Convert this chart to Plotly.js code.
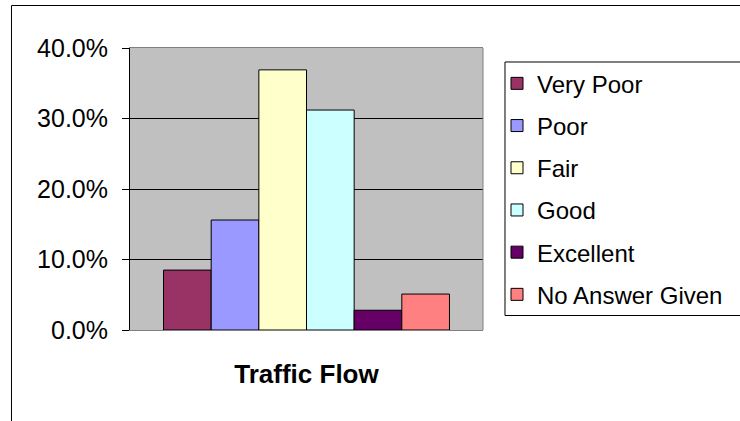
<!DOCTYPE html>
<html>
<head>
<meta charset="utf-8">
<script src="https://cdn.plot.ly/plotly-3.0.1.min.js"></script>
<style>
  html, body { margin: 0; padding: 0; background: #ffffff; }
  #chart { width: 740px; height: 421px; }
</style>
</head>
<body>
<div id="chart"></div>
<script>
// ---- data ----
const categories = ['Traffic Flow'];
const seriesNames = ['Very Poor', 'Poor', 'Fair', 'Good', 'Excellent', 'No Answer Given'];
const seriesValues = [8.5, 15.6, 36.9, 31.2, 2.8, 5.1];
const seriesColors = ['#993366', '#9999FF', '#FFFFCC', '#CCFFFF', '#660066', '#FF8080'];
const yTickValues = [0, 10, 20, 30, 40];

const FONT = 'Liberation Sans, Arial, sans-serif';

const traces = seriesNames.map((name, i) => ({
  type: 'bar',
  name: name,
  x: categories,
  y: [seriesValues[i]],
  legendgroup: 'g' + i,
  marker: { color: seriesColors[i], line: { color: '#000000', width: 1 } },
  hoverinfo: 'none'
}));

const layout = {
  width: 740,
  height: 421,
  margin: { l: 130, r: 257, t: 48, b: 91 },
  paper_bgcolor: '#ffffff',
  plot_bgcolor: '#C0C0C0',
  font: { family: FONT, size: 24, color: '#000000' },
  barmode: 'group',
  bargap: 0.19,
  bargroupgap: 0,
  showlegend: true,
  legend: {
    x: 1.0397, xanchor: 'left',
    y: 0.953, yanchor: 'top',
    bgcolor: 'rgba(0,0,0,0)',
    borderwidth: 0,
    tracegroupgap: 8,
    font: { family: FONT, size: 24, color: '#000000' }
  },
  xaxis: {
    type: 'category',
    showgrid: false,
    showline: true,
    linecolor: '#808080',
    linewidth: 1,
    mirror: true,
    ticks: '',
    layer: 'below traces',
    tickfont: { family: FONT, size: 26, color: '#000000', weight: 'bold' },
    ticklabelstandoff: 21,
    fixedrange: true
  },
  yaxis: {
    range: [0, 40],
    tickvals: yTickValues,
    ticktext: yTickValues.map(v => v.toFixed(1) + '%'),
    showgrid: true,
    gridcolor: '#000000',
    gridwidth: 1,
    zeroline: false,
    showline: true,
    linecolor: '#000000',
    linewidth: 1,
    ticks: 'outside',
    ticklen: 7,
    tickcolor: '#000000',
    tickwidth: 1,
    ticklabelstandoff: 9,
    tickfont: { family: FONT, size: 25, color: '#000000' },
    fixedrange: true
  },
  shapes: [
    // right edge of plot area
    { type: 'line', xref: 'paper', yref: 'paper', x0: 1, x1: 1, y0: 0, y1: 1,
      line: { color: '#808080', width: 1 }, layer: 'above' },
    // legend box (extends beyond right edge like the reference)
    { type: 'rect', xref: 'paper', yref: 'paper',
      x0: 1.0623, x1: 1.76, y0: 0.0514, y1: 0.9504,
      line: { color: '#000000', width: 1 }, fillcolor: 'rgba(0,0,0,0)', layer: 'below' },
    // outer chart border (top and left visible)
    { type: 'line', xref: 'paper', yref: 'paper', x0: -0.3357, x1: 1.8, y0: 1.1507, y1: 1.1507,
      line: { color: '#000000', width: 1 } },
    { type: 'line', xref: 'paper', yref: 'paper', x0: -0.3357, x1: -0.3357, y0: -0.4, y1: 1.1507,
      line: { color: '#000000', width: 1 } }
  ]
};

Plotly.newPlot('chart', traces, layout, { staticPlot: true, displayModeBar: false });
</script>
</body>
</html>
